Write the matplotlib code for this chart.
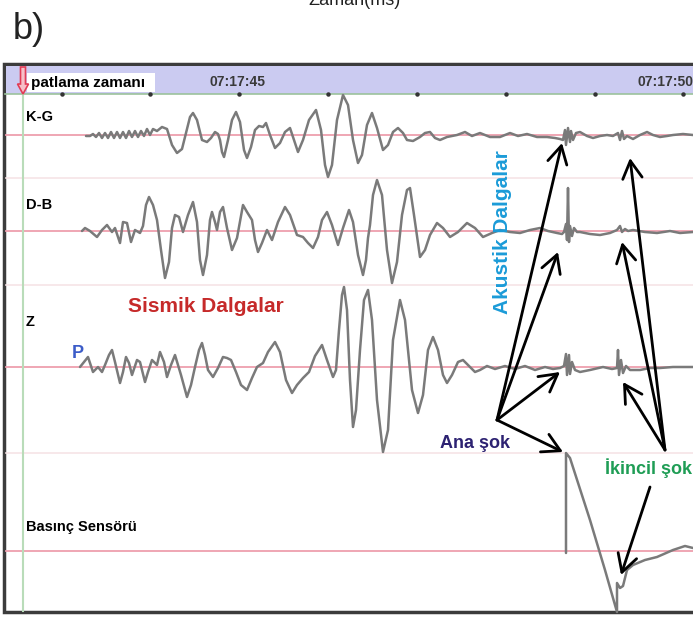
import matplotlib
matplotlib.use("Agg")
import matplotlib.pyplot as plt
from matplotlib.patches import Rectangle, FancyArrow

plt.rcParams['font.family'] = ['Liberation Sans', 'DejaVu Sans']

# --- traced seismogram (picture pixel units: x to the right, y downwards) ---
KG_X = [86, 90, 93, 96, 99, 102, 105, 108, 111, 114, 117, 120, 123, 126, 129, 132, 135, 138, 141, 144,
        147, 150, 153, 157, 162, 167, 172, 177, 182, 186, 190, 193, 197, 202, 207, 211, 215, 218, 220, 222,
        224, 228, 232, 236, 240, 244, 247, 251, 255, 259, 263, 266, 270, 275, 280, 285, 290, 294, 298, 303,
        309, 316, 321, 325, 328, 332, 337, 343, 348, 353, 358, 362, 367, 372, 377, 383, 388, 393, 398, 403,
        407, 413, 420, 425, 430, 435, 440, 447, 457, 465, 472, 480, 490, 500, 510, 518, 527, 537, 547, 555,
        560, 563, 565, 566, 568, 570, 571, 573, 576, 580, 587, 593, 600, 607, 613, 618, 620, 622, 624, 627,
        633, 640, 647, 653, 660, 667, 673, 683, 693]
KG_Y = [136, 136, 134, 137, 133, 138, 133, 138, 132, 138, 132, 138, 132, 138, 131, 137, 131, 137, 131, 136,
        129, 135, 129, 131, 127, 129, 145, 153, 149, 133, 117, 113, 120, 140, 142, 138, 132, 134, 140, 152,
        157, 140, 120, 112, 122, 150, 158, 147, 130, 126, 127, 123, 135, 148, 143, 132, 128, 140, 152, 140,
        120, 110, 130, 165, 177, 165, 120, 95, 105, 140, 163, 155, 125, 113, 128, 150, 145, 132, 128, 133,
        140, 141, 137, 133, 132, 138, 140, 137, 135, 132, 136, 133, 137, 137, 133, 136, 134, 137, 137, 138,
        139, 140, 130, 145, 128, 142, 131, 140, 133, 132, 136, 138, 136, 135, 136, 133, 140, 131, 139, 136,
        139, 135, 132, 135, 137, 136, 135, 134, 135]

DB_X = [82, 85, 90, 97, 102, 107, 112, 115, 120, 123, 127, 131, 135, 140, 143, 146, 149, 153, 157, 161,
        165, 169, 172, 175, 179, 183, 188, 193, 197, 200, 203, 207, 210, 212, 215, 217, 220, 223, 227, 232,
        237, 243, 247, 252, 255, 258, 262, 267, 272, 278, 285, 290, 297, 303, 308, 313, 318, 322, 327, 332,
        338, 343, 349, 353, 358, 363, 366, 368, 370, 373, 377, 382, 387, 392, 397, 402, 407, 410, 414, 420,
        425, 430, 437, 443, 450, 458, 467, 475, 483, 492, 500, 510, 520, 530, 540, 548, 557, 562, 564, 566,
        567, 568, 569, 570, 572, 574, 577, 580, 590, 600, 610, 617, 620, 622, 625, 628, 633, 645, 657, 670,
        680, 693]
DB_Y = [231, 228, 231, 237, 230, 225, 232, 228, 243, 222, 223, 242, 230, 233, 226, 205, 197, 205, 220, 250,
        278, 262, 228, 215, 217, 232, 215, 202, 222, 260, 275, 255, 220, 212, 222, 230, 212, 207, 228, 250,
        238, 205, 212, 220, 240, 252, 243, 230, 240, 222, 207, 215, 235, 237, 243, 248, 237, 220, 212, 225,
        245, 228, 210, 222, 255, 275, 260, 238, 225, 195, 180, 195, 250, 283, 262, 215, 190, 188, 215, 257,
        250, 235, 223, 228, 237, 232, 223, 228, 237, 233, 230, 232, 233, 230, 228, 231, 233, 234, 232, 224,
        240, 188, 242, 226, 236, 228, 232, 232, 234, 235, 233, 230, 226, 232, 229, 231, 230, 232, 233, 231,
        233, 232]

Z_X = [80, 84, 88, 93, 98, 102, 105, 109, 112, 115, 120, 123, 126, 129, 132, 137, 140, 145, 148, 152,
       157, 160, 164, 167, 171, 175, 181, 187, 191, 195, 199, 202, 205, 208, 213, 218, 223, 227, 231, 236,
       241, 247, 252, 257, 263, 268, 275, 280, 286, 292, 297, 303, 309, 315, 322, 327, 333, 336, 339, 342,
       344, 347, 350, 353, 356, 360, 364, 368, 372, 377, 383, 388, 393, 400, 405, 412, 418, 423, 428, 433,
       438, 443, 447, 452, 458, 463, 469, 475, 480, 487, 495, 505, 515, 525, 535, 545, 553, 560, 564, 566,
       567, 569, 570, 572, 575, 580, 590, 603, 612, 617, 618, 619, 621, 623, 626, 630, 640, 650, 660, 673,
       683, 693]
Z_Y = [367, 362, 357, 372, 367, 372, 365, 355, 350, 362, 383, 372, 357, 363, 375, 360, 362, 382, 372, 360,
       365, 352, 362, 377, 365, 355, 375, 397, 385, 367, 350, 343, 355, 370, 377, 368, 357, 358, 360, 372,
       385, 390, 378, 367, 363, 352, 342, 352, 380, 393, 385, 378, 372, 356, 345, 360, 377, 370, 330, 295,
       287, 310, 380, 427, 410, 350, 300, 290, 320, 400, 452, 430, 340, 300, 320, 390, 413, 395, 350, 337,
       350, 375, 383, 375, 362, 360, 366, 372, 370, 366, 369, 366, 369, 366, 370, 367, 369, 368, 366, 354,
       375, 355, 374, 362, 370, 372, 370, 367, 369, 368, 350, 375, 360, 373, 366, 370, 370, 368, 368, 367,
       367, 367]

PS_X = [566, 566, 570, 590, 605, 617, 617, 620, 623, 627, 633, 645, 657, 673, 685, 693]
PS_Y = [553, 453, 458, 520, 570, 612, 583, 588, 586, 570, 565, 560, 557, 550, 546, 548]

# channel names and baselines
CHANNELS = ['K-G', 'D-B', 'Z', 'Basınç Sensörü']
BASELINES = [135, 231, 367, 551]
LABEL_Y = [117, 205, 322, 527]
FAINT_LINES = [178, 285, 453]

TICK_X = [62, 150, 239, 328, 417, 506, 595, 683]
TIME_LABELS = ['07:17:45', '07:17:50']
TIME_LABEL_X = [237, 665]

# arrows: (tail, head)
ANA_ARROWS = [((497, 420), (562, 143)), ((497, 420), (558, 252)),
              ((497, 420), (560, 372)), ((497, 420), (563, 452))]
IKINCIL_ARROWS = [((665, 450), (630, 158)), ((665, 450), (622, 242)),
                  ((665, 450), (623, 382)), ((650, 487), (621, 575))]

fig = plt.figure(figsize=(6.93, 6.17), dpi=100)
ax = fig.add_axes([0, 0, 1, 1])
ax.set_xlim(0, 693)
ax.set_ylim(617, 0)
ax.axis('off')

# panel frame and header band
ax.add_patch(Rectangle((4, 64), 720, 548, fc='white', ec='#3c3c3c', lw=2.5, zorder=0))
ax.add_patch(Rectangle((5.5, 65.5), 720, 28.5, fc='#cbcbf1', ec='none', zorder=1))
ax.plot([5, 693], [94, 94], color='#9cc29c', lw=1.2, zorder=2)
ax.plot(TICK_X, [94] * len(TICK_X), 'o', color='#333333', ms=2.2, zorder=3)

for y in FAINT_LINES:
    ax.plot([6, 693], [y, y], color='#f6e4e6', lw=1.2, zorder=1)
for y in BASELINES:
    ax.plot([6, 693], [y, y], color='#ee9fae', lw=1.3, zorder=1)

# explosion time marker
ax.plot([23, 23], [94, 611], color='#b9dcb9', lw=1.5, zorder=2)
ax.add_patch(Rectangle((27, 73), 128, 19, fc='white', ec='none', zorder=3))
ax.add_patch(FancyArrow(23, 67, 0, 27, width=5, head_width=11, head_length=10,
                        length_includes_head=True, fc='#f6c0c8', ec='#e23c55', lw=1.2, zorder=4))
ax.text(31, 82.5, 'patlama zamanı', fontsize=11, fontweight='bold', ha='left', va='center', zorder=5)
for lab, x in zip(TIME_LABELS, TIME_LABEL_X):
    ax.text(x, 81.5, lab, fontsize=10, fontweight='bold', color='#3a3a3a', ha='center', va='center', zorder=5)

# traces
trace_kw = dict(color='#7a7a7a', lw=1.8, zorder=4, solid_joinstyle='round', solid_capstyle='round')
ax.plot(KG_X, KG_Y, **trace_kw)
ax.plot(DB_X, DB_Y, **trace_kw)
ax.plot(Z_X, Z_Y, **trace_kw)
ax.plot(PS_X, PS_Y, **trace_kw)

for name, y in zip(CHANNELS, LABEL_Y):
    ax.text(26, y, name, fontsize=10.5, fontweight='bold', ha='left', va='center', zorder=5)

# annotations
ax.text(13, 39, 'b)', fontsize=26, color='#222222', ha='left', va='baseline')
ax.text(308, 5, 'Zaman(ms)', fontsize=13, color='#222222', ha='left', va='baseline')
ax.text(128, 306, 'Sismik Dalgalar', fontsize=15, fontweight='bold', color='#c62a2a', ha='left', va='center', zorder=6)
ax.text(72, 354, 'P', fontsize=13, fontweight='bold', color='#3c5cc8', ha='left', va='center', zorder=6)
ax.text(503, 232, 'Akustik Dalgalar', fontsize=15, fontweight='bold', color='#1b9bd8', rotation=90,
        ha='center', va='center', zorder=6)
ax.text(440, 443, 'Ana şok', fontsize=13, fontweight='bold', color='#2d2272', ha='left', va='center', zorder=6)
ax.text(605, 468, 'İkincil şok', fontsize=13, fontweight='bold', color='#1f9d55', ha='left', va='center', zorder=6)

arrow_kw = dict(arrowstyle='->,head_length=0.9,head_width=0.5', lw=2, color='black',
                shrinkA=0, shrinkB=0, mutation_scale=14)
for tail, head in ANA_ARROWS + IKINCIL_ARROWS:
    ax.annotate('', xy=head, xytext=tail, arrowprops=arrow_kw, zorder=7)

fig.savefig('out.png', dpi=100)
